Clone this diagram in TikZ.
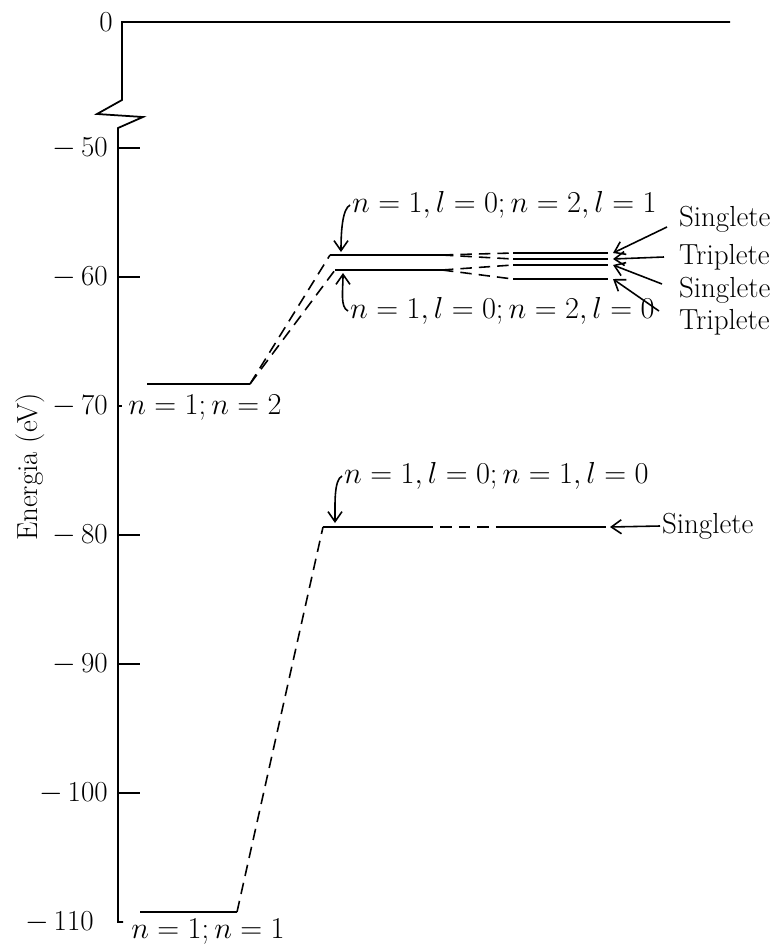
\documentclass[tikz,border=0pt]{standalone}
\usepackage{amsmath}
\usetikzlibrary{positioning,arrows.meta,calc}

\begin{document}
\begin{tikzpicture}[
  x=0.02cm, y=-0.02cm,
  declare function={ey(\q)=148+(-50-(\q))*12.9;},
  axisline/.style={line width=1pt},
  level/.style={line width=1pt},
  link/.style={line width=0.9pt, dash pattern=on 6.5pt off 4pt},
  tickmark/.style={line width=0.9pt},
  ticklabel/.style={anchor=east, inner sep=0pt, font=\fontsize{16.5}{20}\selectfont},
  statelabel/.style={inner sep=1pt, font=\fontsize{16.5}{20}\selectfont},
  pointer/.style={-{Straight Barb[length=2mm,width=2.8mm]}, line width=0.9pt}
]
\useasboundingbox (0,0) rectangle (780,947);

% energy axis, broken between 0 and -50
\draw[axisline] (730,22) -- (122,22) -- (122,100) -- (97,114) -- (143,117) -- (118,128)
  -- (118,{ey(-110)}) -- ++(5,0);
\foreach \v in {-50,-60,-80,-90,-100}
  \draw[tickmark] (118,{ey(\v)}) -- ++(22,0);
\draw[tickmark] (118,{ey(-70)}) -- ++(4,0);
\node[ticklabel] (t0) at (113,22) {0};
\foreach \v/\n in {-50/50,-60/60,-70/70,-80/80,-90/90,-100/100}
  \node[ticklabel] (t\n) at (108,{ey(\v)}) {$-$\,\n};
\node[ticklabel] (t110) at (94,922) {$-$\,110};
\node[statelabel, rotate=90] (ylab) at (30,467) {Energia (eV)};

% n=1; n=1
\coordinate (g0) at (140,912);
\coordinate (g1) at (237,912);
\draw[level] (g0) -- (g1);
\node[statelabel] (gL) at (208,932) {$n=1; n=1$};

% n=1, l=0; n=1, l=0
\coordinate (a0) at (323,527);
\coordinate (a1) at (422,527);
\coordinate (a2) at (500,527);
\coordinate (a3) at (606,527);
\draw[link] (g1) -- (a0);
\draw[level] (a0) -- (a1);
\draw[link] (a1) -- (a2);
\draw[level] (a2) -- (a3);
\node[statelabel, anchor=west] (aL) at (342,476) {$n=1, l=0; n=1, l=0$};
\draw[pointer] (aL.west) .. controls +(-8,4) and +(0,-20) .. ($(a0)+(12,-4)$);
\node[statelabel, anchor=west] (aS) at (660,526) {Singlete};
\draw[pointer] (aS.west) -- ($(a3)+(4,0)$);

% n=1; n=2
\coordinate (b0) at (147,384);
\coordinate (b1) at (250,384);
\draw[level] (b0) -- (b1);
\node[statelabel] (bL) at (205,408) {$n=1; n=2$};
\coordinate (p0) at (330,255);
\coordinate (p1) at (442,255);
\coordinate (s0) at (335,270);
\coordinate (s1) at (442,270);
\draw[link] (b1) -- (p0);
\draw[link] (b1) -- (s0);
\draw[level] (p0) -- (p1);
\draw[level] (s0) -- (s1);
\node[statelabel, anchor=west] (pL) at (350,205) {$n=1, l=0; n=2, l=1$};
\node[statelabel, anchor=west] (sL) at (348,311) {$n=1, l=0; n=2, l=0$};
\draw[pointer] (pL.west) .. controls +(-8,4) and +(0,-18) .. ($(p0)+(11,-3)$);
\draw[pointer] (sL.west) .. controls +(-8,-4) and +(0,18) .. ($(s0)+(8,3)$);

% singlet / triplet splitting
\foreach \y [count=\i] in {253,259,265,279}{
  \coordinate (r\i) at (513,\y);
  \coordinate (q\i) at (608,\y);
  \draw[level] (r\i) -- (q\i);
}
\draw[link] (p1) -- (r1);
\draw[link] (p1) -- (r2);
\draw[link] (s1) -- (r3);
\draw[link] (s1) -- (r4);
\foreach \y/\t [count=\i] in {219/Singlete,257/Triplete,290/Singlete,322/Triplete}
  \node[statelabel, anchor=west] (m\i) at (677,\y) {\t};
\draw[pointer] ($(m1.west)+(-10,8)$) -- ($(q1)+(5,0)$);
\draw[pointer] ($(m2.west)+(-13,0)$) -- ($(q2)+(5,0)$);
\draw[pointer] ($(m3.west)+(-15,-6)$) -- ($(q3)+(5,0)$);
\draw[pointer] ($(m4.west)+(-18,-11)$) -- ($(q4)+(5,0)$);
\end{tikzpicture}
\end{document}
